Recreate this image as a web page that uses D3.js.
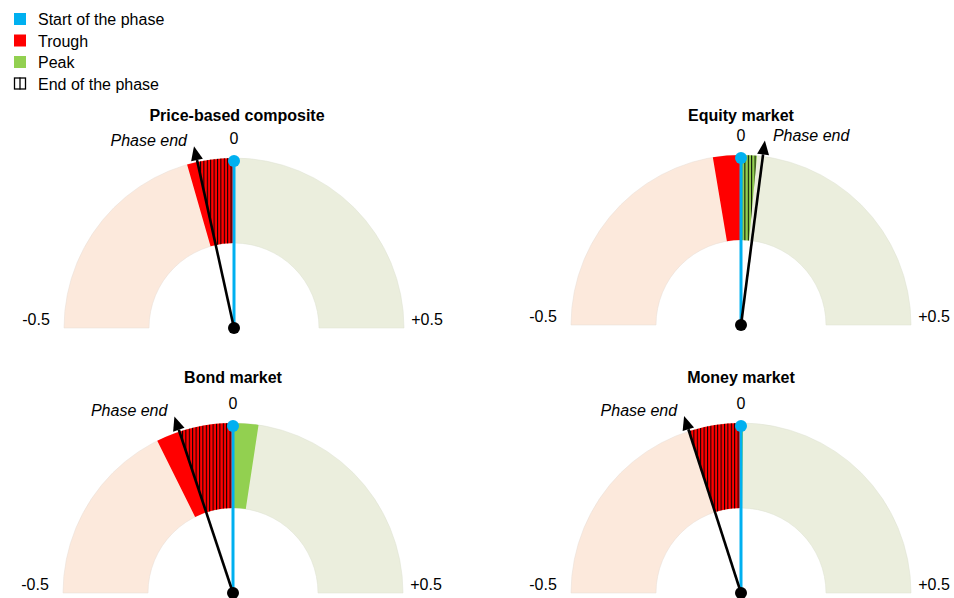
<!DOCTYPE html>
<meta charset="utf-8">
<head>
    <title>Phase gauges</title>
    <script src="https://d3js.org/d3.v7.min.js"></script>
</head>
<style>
    body { margin: 0; background: #fff; font-family: Arial, "Liberation Sans", sans-serif; }
    text { font-family: Arial, "Liberation Sans", sans-serif; fill: #000; }
    .title { font-weight: bold; font-size: 16px; }
    .tick { font-size: 16px; }
    .phase { font-size: 16px; font-style: italic; }
    .legend text { font-size: 16px; }
</style>
<body>
<script>
    // chart data
    var panels = ["Price-based composite", "Equity market", "Bond market", "Money market"];
    var troughs = [-0.089, -0.053, -0.147, -0.098];
    var peaks = [0, 0.030, 0.048, 0.004];
    var phaseEnds = [-0.069, 0.041, -0.102, -0.099];
    var tickLabels = ["-0.5", "0", "+0.5"];
    var legendItems = ["Start of the phase", "Trough", "Peak", "End of the phase"];

    var width = 954, height = 598;
    var colors = { start: "#00b0f0", trough: "#ff0000", peak: "#92d050", neg: "#fce9dc", pos: "#ebeedd" };

    var svg = d3.select("body").append("svg")
        .attr("width", width)
        .attr("height", height);

    var defs = svg.append("defs");
    var pat = defs.append("pattern")
        .attr("id", "hatch")
        .attr("patternUnits", "userSpaceOnUse")
        .attr("width", 3.4)
        .attr("height", 10);
    pat.append("line")
        .attr("x1", 0.5).attr("x2", 0.5).attr("y1", 0).attr("y2", 10)
        .attr("stroke", "#000").attr("stroke-width", 1);

    // legend
    var legend = svg.append("g").attr("class", "legend");
    legendItems.forEach(function (d, i) {
        var y = 13 + i * 21.5;
        if (i < 3) {
            legend.append("rect")
                .attr("x", 14).attr("y", y).attr("width", 12).attr("height", 12)
                .attr("fill", [colors.start, colors.trough, colors.peak][i]);
        } else {
            legend.append("rect")
                .attr("x", 14.5).attr("y", y + 0.5).attr("width", 11).attr("height", 11)
                .attr("fill", "#fff").attr("stroke", "#000").attr("stroke-width", 1.3);
            legend.append("line")
                .attr("x1", 20).attr("x2", 20).attr("y1", y).attr("y2", y + 12)
                .attr("stroke", "#000").attr("stroke-width", 1.3);
        }
        legend.append("text").attr("x", 38).attr("y", y + 12).text(d);
    });

    var angle = d3.scaleLinear().domain([-0.5, 0.5]).range([-Math.PI / 2, Math.PI / 2]);
    var rIn = 85, rOut = 170;
    var arc = d3.arc().innerRadius(rIn).outerRadius(rOut);

    var centers = [[234, 328], [741, 325], [233, 593], [741, 593]];
    var titleY = [121, 121, 383, 383];

    panels.forEach(function (name, i) {
        var cx = centers[i][0], cy = centers[i][1];
        var g = svg.append("g").attr("transform", "translate(" + cx + "," + cy + ")");

        svg.append("text").attr("class", "title")
            .attr("x", cx + (i == 0 ? 3 : 0)).attr("y", titleY[i])
            .attr("text-anchor", "middle").text(name);

        // background halves
        g.append("path").attr("fill", colors.neg).attr("stroke", "#e6dcd4").attr("stroke-width", 0.5)
            .attr("d", arc({ startAngle: angle(-0.5), endAngle: angle(0) }));
        g.append("path").attr("fill", colors.pos).attr("stroke", "#dde0d0").attr("stroke-width", 0.5)
            .attr("d", arc({ startAngle: angle(0), endAngle: angle(0.5) }));

        // trough and peak
        if (troughs[i] < 0)
            g.append("path").attr("fill", colors.trough)
                .attr("d", arc({ startAngle: angle(troughs[i]), endAngle: angle(0) }));
        if (peaks[i] > 0)
            g.append("path").attr("fill", colors.peak)
                .attr("d", arc({ startAngle: angle(0), endAngle: angle(peaks[i]) }));

        // end of the phase hatching
        var pe = phaseEnds[i], a0, a1;
        if (pe < 0) { a0 = Math.max(pe, troughs[i]); a1 = 0; }
        else { a0 = 0; a1 = Math.min(pe, peaks[i]); }
        g.append("path").attr("fill", "url(#hatch)")
            .attr("d", arc({ startAngle: angle(a0), endAngle: angle(a1) }));

        // start line
        g.append("line").attr("x1", 0).attr("y1", 0).attr("x2", 0).attr("y2", -167)
            .attr("stroke", colors.start).attr("stroke-width", 3);
        g.append("circle").attr("cx", 0).attr("cy", -167).attr("r", 6).attr("fill", colors.start);

        // phase end arrow
        var a = angle(pe);
        var ux = Math.sin(a), uy = -Math.cos(a);
        var tip = 186, base = 172;
        g.append("line").attr("x1", 0).attr("y1", 0)
            .attr("x2", ux * base).attr("y2", uy * base)
            .attr("stroke", "#000").attr("stroke-width", 2.6);
        var px = -uy, py = ux;
        g.append("path").attr("fill", "#000")
            .attr("d", "M" + ux * tip + "," + uy * tip +
                "L" + (ux * base + px * 6) + "," + (uy * base + py * 6) +
                "L" + (ux * base - px * 6) + "," + (uy * base - py * 6) + "Z");
        g.append("circle").attr("r", 6).attr("fill", "#000");

        var tx = ux * tip, ty = uy * tip;
        g.append("text").attr("class", "phase")
            .attr("x", pe < 0 ? tx - 7 : tx + 8).attr("y", ty)
            .attr("text-anchor", pe < 0 ? "end" : "start")
            .text("Phase end");

        // ticks
        g.append("text").attr("class", "tick").attr("x", -198).attr("y", -3)
            .attr("text-anchor", "middle").text(tickLabels[0]);
        g.append("text").attr("class", "tick").attr("x", 0).attr("y", -184)
            .attr("text-anchor", "middle").text(tickLabels[1]);
        g.append("text").attr("class", "tick").attr("x", 193).attr("y", -3)
            .attr("text-anchor", "middle").text(tickLabels[2]);
    });
</script>
</body>
</html>
